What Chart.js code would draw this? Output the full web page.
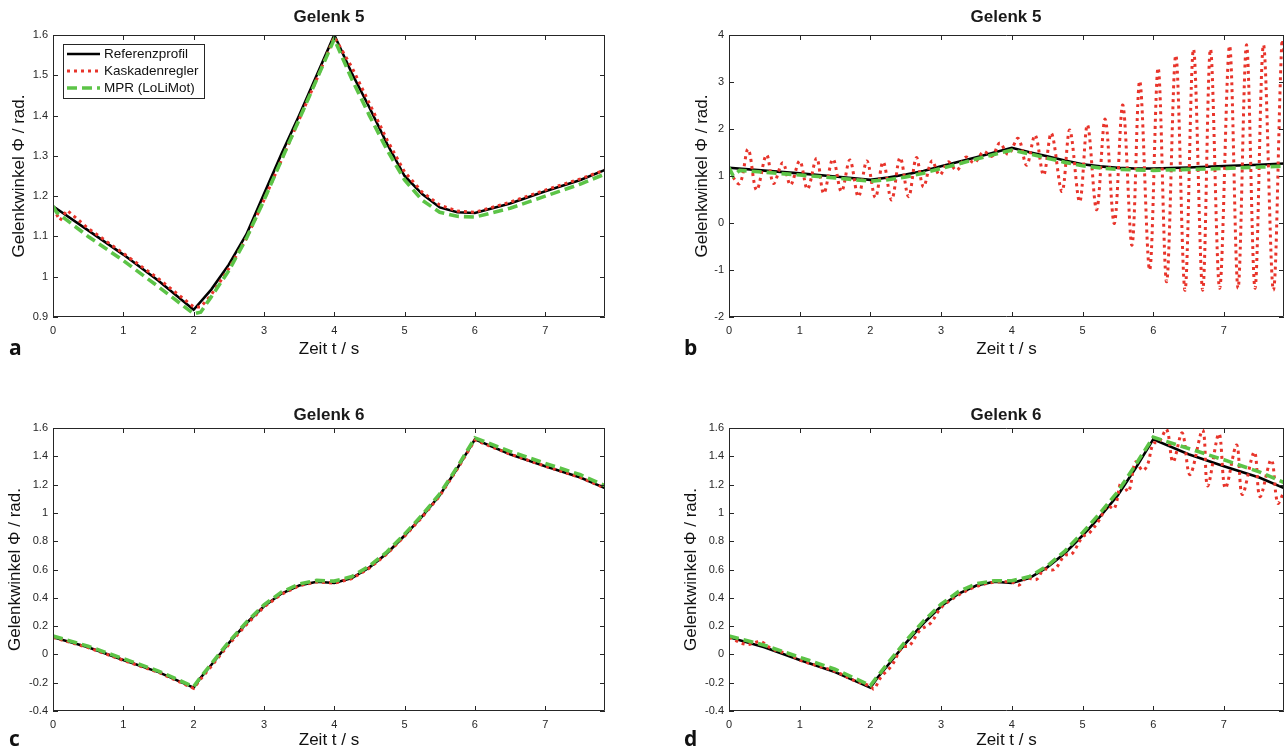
<!DOCTYPE html>
<html>
<head>
<meta charset="utf-8">
<script src="https://cdn.jsdelivr.net/npm/chart.js@4.4.1/dist/chart.umd.min.js"></script>
<style>
    body { margin: 0; background: #fff; width: 1286px; height: 751px; position: relative; overflow: hidden; font-family: "Liberation Sans", Arial, sans-serif; }
    canvas { position: absolute; }
    .ttl { position: absolute; font-weight: bold; font-size: 17px; color: #1a1a1a; transform: translateX(-50%); white-space: nowrap; }
    .lbl { position: absolute; font-family: "Open Sans", sans-serif; font-weight: bold; font-size: 21px; color: #111; }
</style>
</head>
<body>
<canvas id="chartA" width="640" height="372" style="left:0;top:0"></canvas>
<canvas id="chartB" width="610" height="372" style="left:676px;top:0"></canvas>
<canvas id="chartC" width="640" height="358" style="left:0;top:393px"></canvas>
<canvas id="chartD" width="610" height="358" style="left:676px;top:393px"></canvas>

<div class="ttl" style="left:329px;top:7px">Gelenk 5</div>
<div class="ttl" style="left:1006px;top:7px">Gelenk 5</div>
<div class="ttl" style="left:329px;top:405px">Gelenk 6</div>
<div class="ttl" style="left:1006px;top:405px">Gelenk 6</div>
<div class="lbl" style="left:9px;top:333px">a</div>
<div class="lbl" style="left:684px;top:333px">b</div>
<div class="lbl" style="left:9px;top:724px">c</div>
<div class="lbl" style="left:684px;top:724px">d</div>

<script>
// Series labels
const seriesLabels = ['Referenzprofil', 'Kaskadenregler', 'MPR (LoLiMot)'];
const X_MAX = 7.85;

// Gelenk 5 - reference profile (same in a and b)
const t5 = [0, 0.5, 1, 1.5, 2, 2.25, 2.5, 2.75, 3, 3.25, 3.5, 3.75, 4, 4.25, 4.5, 4.75, 5, 5.25, 5.5, 5.75, 6, 6.5, 7, 7.5, 7.85];
const ref5 = [1.175, 1.115, 1.055, 0.99, 0.918, 0.968, 1.03, 1.105, 1.205, 1.305, 1.40, 1.50, 1.60, 1.505, 1.42, 1.33, 1.25, 1.205, 1.172, 1.16, 1.158, 1.182, 1.212, 1.24, 1.265];

// Gelenk 5 (a) - MPR and cascade controller
const tMpr5a = [0, 0.05, 0.5, 1, 1.5, 2, 2.1, 2.25, 2.5, 2.75, 3, 3.25, 3.5, 3.75, 4, 4.25, 4.5, 4.75, 5, 5.25, 5.5, 5.75, 6, 6.5, 7, 7.5, 7.85];
const mpr5a = [1.175, 1.16, 1.10, 1.04, 0.975, 0.908, 0.912, 0.95, 1.015, 1.095, 1.19, 1.29, 1.39, 1.49, 1.59, 1.49, 1.40, 1.315, 1.24, 1.19, 1.16, 1.15, 1.148, 1.17, 1.20, 1.23, 1.255];
const tKas5a = [0, 0.1, 0.2, 0.3, 0.5, 1, 1.5, 2, 2.1, 2.25, 2.5, 2.75, 3, 3.25, 3.5, 3.75, 4, 4.25, 4.5, 4.75, 5, 5.25, 5.5, 5.75, 6, 6.5, 7, 7.5, 7.85];
const kas5a = [1.17, 1.14, 1.165, 1.15, 1.12, 1.058, 0.995, 0.925, 0.925, 0.955, 1.02, 1.095, 1.19, 1.29, 1.39, 1.49, 1.595, 1.52, 1.43, 1.34, 1.26, 1.21, 1.178, 1.163, 1.16, 1.185, 1.215, 1.243, 1.265];

// Gelenk 5 (b) - MPR and oscillating cascade controller
const tMpr5b = [0, 0.06, 0.15, 0.5, 1, 1.5, 2, 2.25, 2.5, 2.75, 3, 3.25, 3.5, 3.75, 4, 4.25, 4.5, 4.75, 5, 5.25, 5.5, 5.75, 6, 6.5, 7, 7.5, 7.85];
const mpr5b = [1.18, 1.0, 1.12, 1.08, 1.02, 0.96, 0.89, 0.92, 0.98, 1.06, 1.16, 1.26, 1.36, 1.46, 1.55, 1.47, 1.38, 1.29, 1.22, 1.17, 1.14, 1.13, 1.12, 1.14, 1.16, 1.19, 1.21];
const tKas5b = [0, 0.15, 0.27, 0.39, 0.53, 0.63, 0.76, 0.87, 1.0, 1.11, 1.24, 1.34, 1.47, 1.59, 1.71, 1.83, 1.95, 2.07, 2.18, 2.30, 2.42, 2.54, 2.65, 2.75, 2.87, 2.98, 3.10, 3.22, 3.35, 3.47, 3.60, 3.72, 3.83, 3.95, 4.09, 4.21, 4.33, 4.45, 4.56, 4.71, 4.82, 4.96, 5.07, 5.20, 5.32, 5.45, 5.57, 5.70, 5.81, 5.95, 6.07, 6.19, 6.32, 6.45, 6.57, 6.70, 6.81, 6.94, 7.08, 7.20, 7.32, 7.44, 7.56, 7.70, 7.82, 7.86];
const kas5b = [1.1, 0.84, 1.57, 0.70, 1.45, 0.84, 1.28, 0.81, 1.32, 0.72, 1.38, 0.63, 1.36, 0.67, 1.34, 0.56, 1.32, 0.54, 1.30, 0.49, 1.39, 0.56, 1.39, 0.77, 1.32, 1.02, 1.30, 1.12, 1.40, 1.28, 1.52, 1.42, 1.70, 1.46, 1.80, 1.23, 1.87, 1.02, 1.91, 0.67, 1.98, 0.45, 2.09, 0.28, 2.21, -0.01, 2.51, -0.47, 3.02, -1.0, 3.30, -1.25, 3.57, -1.43, 3.70, -1.43, 3.70, -1.39, 3.77, -1.39, 3.79, -1.39, 3.79, -1.43, 3.88, 3.6];

// Gelenk 6 - reference profile (same in c and d)
const t6 = [0, 0.5, 1, 1.5, 2, 2.1, 2.25, 2.5, 2.75, 3, 3.25, 3.5, 3.75, 4, 4.25, 4.5, 4.75, 5, 5.25, 5.5, 5.75, 6, 6.5, 7, 7.5, 7.85];
const ref6 = [0.122, 0.05, -0.04, -0.125, -0.235, -0.165, -0.075, 0.08, 0.22, 0.34, 0.43, 0.487, 0.513, 0.505, 0.54, 0.615, 0.715, 0.84, 0.975, 1.125, 1.315, 1.52, 1.415, 1.33, 1.25, 1.175];

// Gelenk 6 (c)
const mpr6c = [0.13, 0.058, -0.03, -0.118, -0.228, -0.16, -0.068, 0.088, 0.228, 0.35, 0.44, 0.497, 0.523, 0.518, 0.55, 0.625, 0.725, 0.85, 0.985, 1.135, 1.325, 1.53, 1.435, 1.35, 1.27, 1.192];
const kas6c = [0.12, 0.048, -0.042, -0.127, -0.24, -0.175, -0.085, 0.07, 0.21, 0.335, 0.425, 0.485, 0.512, 0.503, 0.535, 0.61, 0.71, 0.835, 0.97, 1.12, 1.31, 1.515, 1.415, 1.33, 1.25, 1.175];

// Gelenk 6 (d)
const mpr6d = [0.13, 0.065, -0.02, -0.105, -0.22, -0.155, -0.06, 0.095, 0.235, 0.355, 0.445, 0.5, 0.52, 0.52, 0.55, 0.625, 0.73, 0.86, 1.0, 1.15, 1.34, 1.535, 1.455, 1.375, 1.29, 1.215];
const tKas6d = [0, 0.25, 0.45, 0.6, 0.85, 1.0, 1.25, 1.5, 1.75, 2.0, 2.05, 2.15, 2.3, 2.45, 2.55, 2.7, 2.85, 3.0, 3.25, 3.5, 3.75, 4.0, 4.1, 4.2, 4.35, 4.45, 4.6, 4.75, 4.85, 5.0, 5.1, 5.25, 5.35, 5.45, 5.55, 5.65, 5.75, 5.85, 5.92, 6.0, 6.08, 6.19, 6.28, 6.41, 6.52, 6.70, 6.77, 6.93, 7.02, 7.18, 7.26, 7.43, 7.51, 7.67, 7.76, 7.85];
const kas6d = [0.12, 0.07, 0.09, 0.04, 0.0, -0.04, -0.08, -0.12, -0.18, -0.225, -0.245, -0.16, -0.08, 0.05, 0.06, 0.17, 0.22, 0.33, 0.42, 0.48, 0.51, 0.51, 0.49, 0.54, 0.53, 0.60, 0.60, 0.70, 0.71, 0.83, 0.86, 0.96, 1.05, 1.03, 1.22, 1.15, 1.36, 1.30, 1.34, 1.49, 1.50, 1.59, 1.36, 1.565, 1.27, 1.585, 1.19, 1.56, 1.175, 1.48, 1.13, 1.43, 1.115, 1.375, 1.07, 1.15];

const RED = '#e8342b';
const GREEN = '#5cc447';
const AXIS = '#262626';

function pts(ts, vs) {
    return ts.map((t, i) => ({ x: t, y: vs[i] }));
}

function fmt(v) {
    return String(Math.round(v * 100) / 100);
}

// MATLAB style box with inward ticks on all sides
const boxPlugin = {
    id: 'matlabBox',
    afterDatasetsDraw(chart) {
        const { ctx, chartArea: a, scales: { x, y } } = chart;
        ctx.save();
        ctx.strokeStyle = AXIS;
        ctx.lineWidth = 1;
        ctx.beginPath();
        x.ticks.forEach(t => {
            const px = Math.round(x.getPixelForValue(t.value)) + 0.5;
            ctx.moveTo(px, a.bottom); ctx.lineTo(px, a.bottom - 5);
            ctx.moveTo(px, a.top); ctx.lineTo(px, a.top + 5);
        });
        y.ticks.forEach(t => {
            const py = Math.round(y.getPixelForValue(t.value)) + 0.5;
            ctx.moveTo(a.left, py); ctx.lineTo(a.left + 5, py);
            ctx.moveTo(a.right, py); ctx.lineTo(a.right - 5, py);
        });
        ctx.rect(Math.round(a.left) + 0.5, Math.round(a.top) + 0.5, Math.round(a.right - a.left) - 1, Math.round(a.bottom - a.top) - 1);
        ctx.stroke();
        ctx.restore();
    }
};

// Legend box inside the axes (top left)
const legendPlugin = {
    id: 'boxLegend',
    afterDraw(chart, args, opts) {
        if (!opts.show) return;
        const { ctx, chartArea: a } = chart;
        const x0 = a.left + 10, y0 = a.top + 9, w = 141, h = 54;
        ctx.save();
        ctx.fillStyle = '#fff';
        ctx.fillRect(x0, y0, w, h);
        ctx.strokeStyle = AXIS;
        ctx.lineWidth = 1;
        ctx.strokeRect(x0 + 0.5, y0 + 0.5, w, h);
        ctx.font = '13.5px "Liberation Sans", Arial, sans-serif';
        ctx.textBaseline = 'middle';
        chart.data.datasets.forEach((ds, i) => {
            const yy = y0 + 10 + i * 17;
            ctx.strokeStyle = ds.borderColor;
            ctx.lineWidth = ds.borderWidth;
            ctx.setLineDash(ds.borderDash || []);
            ctx.beginPath();
            ctx.moveTo(x0 + 4, yy);
            ctx.lineTo(x0 + 37, yy);
            ctx.stroke();
            ctx.setLineDash([]);
            ctx.fillStyle = '#111';
            ctx.fillText(ds.label, x0 + 41, yy);
        });
        ctx.restore();
    }
};

function makePanel(id, cfg) {
    const tickFont = { family: '"Liberation Sans", Arial, sans-serif', size: 11 };
    const titleFont = { family: '"Liberation Sans", Arial, sans-serif', size: 17 };
    return new Chart(document.getElementById(id), {
        type: 'line',
        data: {
            datasets: [
                { label: seriesLabels[0], data: pts(cfg.tRef, cfg.ref), borderColor: '#000', borderWidth: 2.6, order: 2 },
                { label: seriesLabels[1], data: pts(cfg.tKas, cfg.kas), borderColor: RED, borderWidth: 3, borderDash: [3, 4], tension: cfg.kasTension, order: 1 },
                { label: seriesLabels[2], data: pts(cfg.tMpr, cfg.mpr), borderColor: GREEN, borderWidth: 3.6, borderDash: [10, 5], order: 0 }
            ]
        },
        options: {
            responsive: false,
            animation: false,
            layout: { padding: cfg.padding },
            elements: { point: { radius: 0 }, line: { tension: 0, borderCapStyle: 'butt', fill: false } },
            plugins: {
                legend: { display: false },
                tooltip: { enabled: false },
                boxLegend: { show: cfg.legend }
            },
            scales: {
                x: {
                    type: 'linear', min: 0, max: X_MAX,
                    ticks: { stepSize: 1, includeBounds: false, padding: 7, font: tickFont, color: AXIS, maxRotation: 0, callback: fmt },
                    grid: { display: false, drawTicks: false },
                    border: { display: false },
                    title: { display: true, text: 'Zeit t / s', font: titleFont, color: '#111', padding: 0 },
                    afterFit: s => { s.height = cfg.xHeight; }
                },
                y: {
                    min: cfg.yMin, max: cfg.yMax,
                    ticks: { stepSize: cfg.yStep, padding: 5, font: tickFont, color: AXIS, callback: fmt },
                    grid: { display: false, drawTicks: false },
                    border: { display: false },
                    title: { display: true, text: 'Gelenkwinkel Φ / rad.', font: titleFont, color: '#111', padding: { top: cfg.yTitlePad, bottom: 0 } },
                    afterFit: s => { s.width = 53; }
                }
            }
        },
        plugins: [boxPlugin, legendPlugin]
    });
}

makePanel('chartA', {
    tRef: t5, ref: ref5, tKas: tKas5a, kas: kas5a, tMpr: tMpr5a, mpr: mpr5a, kasTension: 0,
    yMin: 0.9, yMax: 1.6, yStep: 0.1, yTitlePad: 9, legend: true,
    padding: { top: 35, right: 35, bottom: 12, left: 0 }, xHeight: 43
});
makePanel('chartB', {
    tRef: t5, ref: ref5, tKas: tKas5b, kas: kas5b, tMpr: tMpr5b, mpr: mpr5b, kasTension: 0.35,
    yMin: -2, yMax: 4, yStep: 1, yTitlePad: 16, legend: false,
    padding: { top: 35, right: 2, bottom: 12, left: 0 }, xHeight: 43
});
makePanel('chartC', {
    tRef: t6, ref: ref6, tKas: t6, kas: kas6c, tMpr: t6, mpr: mpr6c, kasTension: 0,
    yMin: -0.4, yMax: 1.6, yStep: 0.2, yTitlePad: 5, legend: false,
    padding: { top: 35, right: 35, bottom: 0, left: 0 }, xHeight: 40
});
makePanel('chartD', {
    tRef: t6, ref: ref6, tKas: tKas6d, kas: kas6d, tMpr: t6, mpr: mpr6d, kasTension: 0.35,
    yMin: -0.4, yMax: 1.6, yStep: 0.2, yTitlePad: 5, legend: false,
    padding: { top: 35, right: 2, bottom: 0, left: 0 }, xHeight: 40
});
</script>
</body>
</html>
